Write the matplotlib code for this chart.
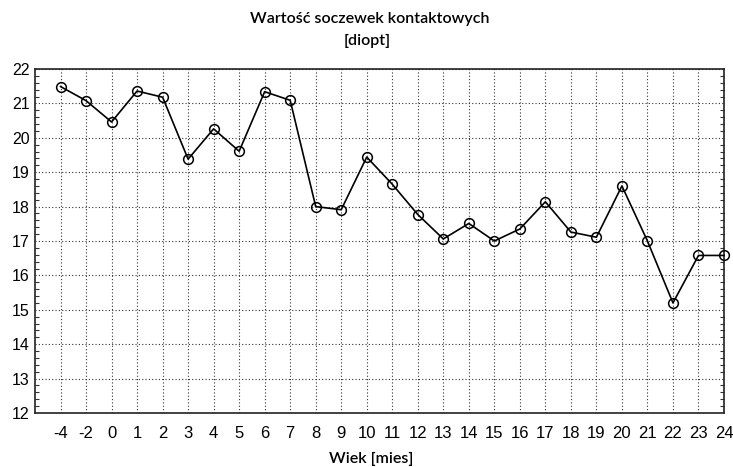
import matplotlib
matplotlib.use("Agg")
import matplotlib.pyplot as plt
from matplotlib.ticker import MultipleLocator

months = ["-4", "-2", "0", "1", "2", "3", "4", "5", "6", "7", "8", "9", "10", "11", "12",
          "13", "14", "15", "16", "17", "18", "19", "20", "21", "22", "23", "24"]
values = [21.49, 21.08, 20.46, 21.36, 21.18, 19.38, 20.26, 19.61, 21.34, 21.09, 18.0, 17.91,
          19.44, 18.65, 17.77, 17.06, 17.51, 17.0, 17.35, 18.14, 17.26, 17.11, 18.6, 17.0,
          15.2, 16.58, 16.58]
y_ticks = list(range(12, 23))

fig = plt.figure(figsize=(7.33, 4.67), dpi=100)
ax = fig.add_axes([35/733, 1 - 413/467, (724-35)/733, (413-69)/467])

xs = list(range(len(months)))
ax.plot(xs, values, color="black", lw=1.2, marker="o", markersize=7,
        markerfacecolor="none", markeredgecolor="black", markeredgewidth=1.1,
        clip_on=False, zorder=3)

ax.set_xlim(-1, len(months) - 1)
ax.set_ylim(12, 22)
ax.set_xticks(xs)
ax.set_xticklabels(months, fontfamily="Liberation Sans", fontsize=12)
ax.set_yticks(y_ticks)
ax.set_yticklabels([str(v) for v in y_ticks], fontfamily="Liberation Sans", fontsize=11.5)
ax.yaxis.set_minor_locator(MultipleLocator(0.2))
ax.tick_params(axis="x", length=0, pad=9)
ax.tick_params(axis="y", which="major", direction="in", length=0, pad=4, right=True)
ax.tick_params(axis="y", which="minor", direction="in", length=3, width=0.8,
               left=True, right=True, color="#333333")
ax.grid(True, which="major", linestyle=(0, (1, 2)), color="#333333", lw=0.8)
for s in ax.spines.values():
    s.set_linewidth(1.2)
    s.set_color("#222222")

fig.text(370/733, 1 - 23.5/467, "Wartość soczewek kontaktowych", ha="center", va="baseline",
         fontfamily="Lato", fontweight="semibold", fontsize=11.5)
fig.text(367/733, 1 - 44.5/467, "[diopt]", ha="center", va="baseline",
         fontfamily="Lato", fontweight="semibold", fontsize=11.5)
fig.text(371/733, 1 - 462.5/467, "Wiek [mies]", ha="center", va="baseline",
         fontfamily="Lato", fontweight="semibold", fontsize=11.5)

fig.savefig("out.png", dpi=100)
